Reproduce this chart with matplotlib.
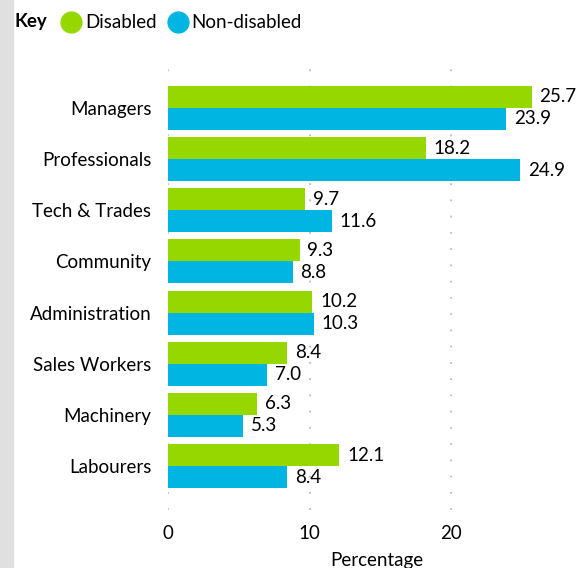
import matplotlib.pyplot as plt
import numpy as np

categories = ["Managers", "Professionals", "Tech & Trades", "Community",
              "Administration", "Sales Workers", "Machinery", "Labourers"]
disabled = [25.7, 18.2, 9.7, 9.3, 10.2, 8.4, 6.3, 12.1]
non_disabled = [23.9, 24.9, 11.6, 8.8, 10.3, 7.0, 5.3, 8.4]
xticks = [0, 10, 20]

green = "#97d700"
blue = "#00b5e2"
fs = 13.5

plt.rcParams["font.family"] = ["Lato", "DejaVu Sans"]

fig = plt.figure(figsize=(5.85, 5.68), dpi=100)
# grey strip on the left
fig.patches.append(plt.Rectangle((0, 0), 13 / 585, 1, transform=fig.transFigure,
                                 color="#e0e0e0", zorder=0))

ax = fig.add_axes([168 / 585, 1 - 510 / 568, (585 - 168) / 585, (510 - 67) / 568])
y = np.arange(len(categories))
h = 0.43
ax.barh(y - h / 2, disabled, height=h, color=green, zorder=2)
ax.barh(y + h / 2, non_disabled, height=h, color=blue, zorder=2)

for yi, v in zip(y, disabled):
    ax.text(v + 0.55, yi - h / 2, f"{v:.1f}", va="center", ha="left", fontsize=fs)
for yi, v in zip(y, non_disabled):
    ax.text(v + 0.55, yi + h / 2, f"{v:.1f}", va="center", ha="left", fontsize=fs)

ax.set_xlim(0, 417 / 14.15)
ax.set_ylim(len(categories) - 1 + 0.86, -0.8)
ax.set_yticks(y)
ax.set_yticklabels(categories, fontsize=fs)
ax.set_xticks(xticks)
ax.set_xticklabels([str(t) for t in xticks], fontsize=fs)
ax.tick_params(length=0, pad=11)
ax.tick_params(axis="y", pad=12)
ax.grid(axis="x", color="#bbbbbb", linestyle=(0, (1, 8)), linewidth=1.3, zorder=1)
for s in ax.spines.values():
    s.set_visible(False)
ax.set_xlabel("Percentage", fontsize=fs, labelpad=7)

# key
ky = 1 - 22 / 568
fig.text(15 / 585, ky, "Key", fontsize=fs, fontweight="bold", va="center")
fig.lines.append(plt.Line2D([71 / 585], [ky], marker="o", markersize=15,
                            color=green, transform=fig.transFigure))
fig.text(85 / 585, ky, "Disabled", fontsize=fs, va="center")
fig.lines.append(plt.Line2D([178 / 585], [ky], marker="o", markersize=15,
                            color=blue, transform=fig.transFigure))
fig.text(191 / 585, ky, "Non-disabled", fontsize=fs, va="center")

fig.savefig("out.png", dpi=100)
